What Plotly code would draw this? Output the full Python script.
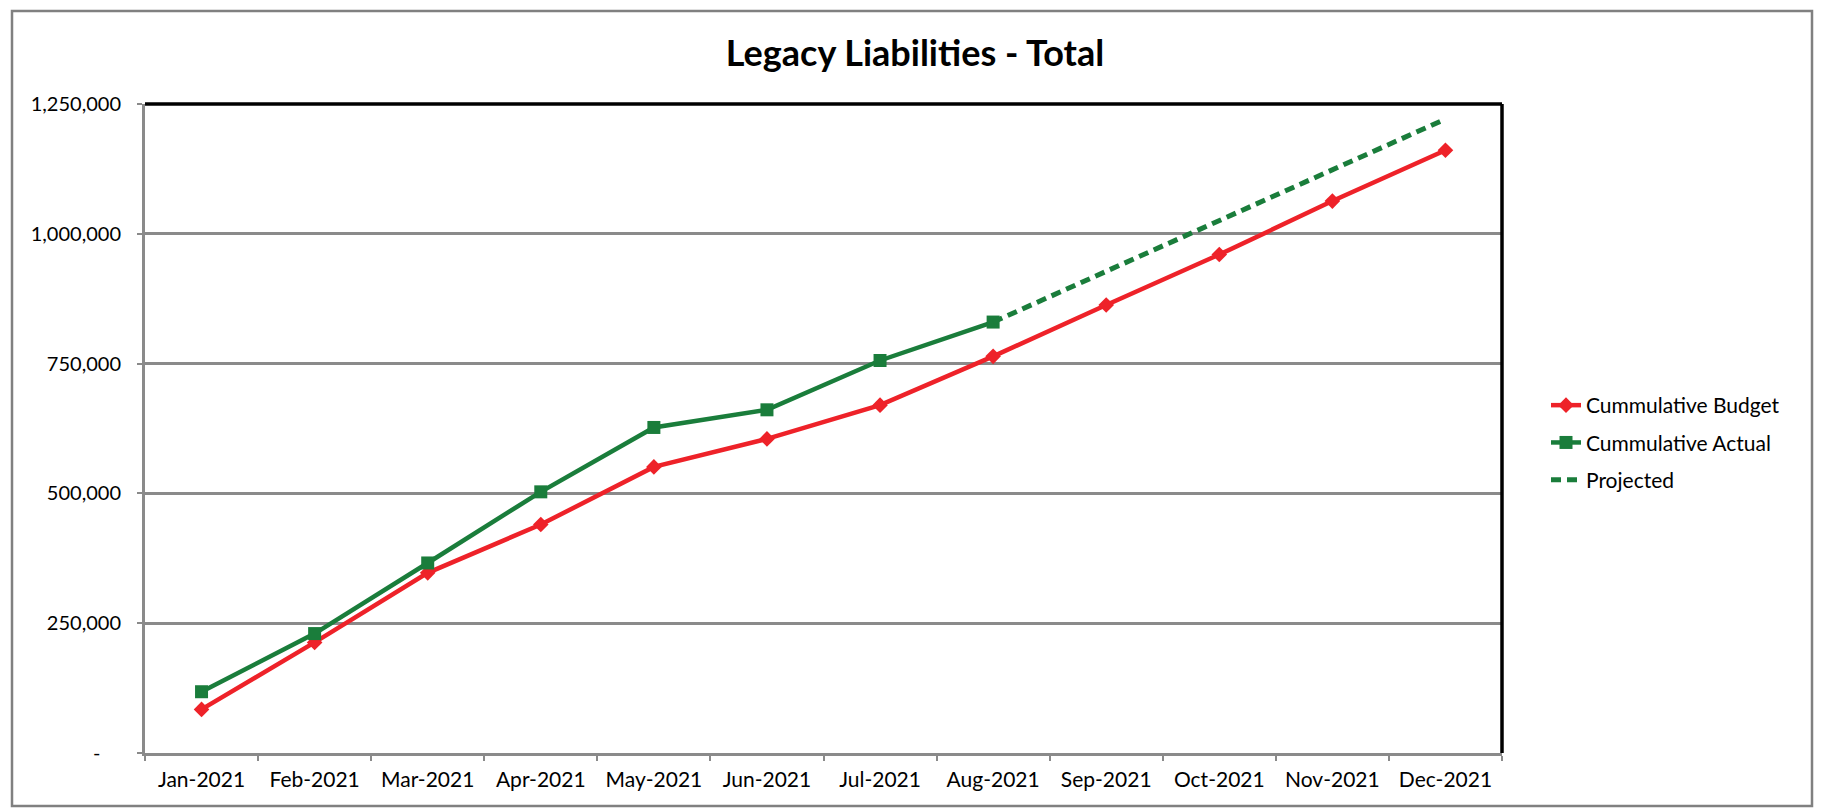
import plotly.graph_objects as go

months = ["Jan-2021", "Feb-2021", "Mar-2021", "Apr-2021", "May-2021", "Jun-2021",
          "Jul-2021", "Aug-2021", "Sep-2021", "Oct-2021", "Nov-2021", "Dec-2021"]
budget = [84000, 213000, 347000, 440000, 551000, 605000, 670000, 764000,
          863000, 960000, 1063000, 1161000]
actual = [118000, 230000, 366000, 503000, 627000, 661000, 756000, 830000]
projected_months = ["Aug-2021", "Sep-2021", "Oct-2021", "Nov-2021", "Dec-2021"]
projected = [830000, 928000, 1025000, 1123000, 1221000]
y_ticks = [0, 250000, 500000, 750000, 1000000, 1250000]
y_tick_text = ["-\u00a0\u00a0\u00a0\u00a0", "250,000", "500,000", "750,000", "1,000,000", "1,250,000"]

RED = "#ee2229"
GREEN = "#1a7d3b"
FONT = "Lato"

fig = go.Figure()
fig.add_trace(go.Scatter(
    x=months, y=budget, name="Cummulative Budget", mode="lines+markers",
    line=dict(color=RED, width=4.5), marker=dict(symbol="diamond", size=12, color=RED),
    legendgroup="a"))
fig.add_trace(go.Scatter(
    x=months[:len(actual)], y=actual, name="Cummulative Actual", mode="lines+markers",
    line=dict(color=GREEN, width=4.5), marker=dict(symbol="square", size=13, color=GREEN),
    legendgroup="b"))
fig.add_trace(go.Scatter(
    x=projected_months, y=projected, name="Projected", mode="lines",
    line=dict(color=GREEN, width=5, dash="10px,6px"), legendgroup="c"))

L, R, T, B = 145, 1502, 104, 753
W, H = 1830, 809

def px_x(p):
    return (p - L) / (R - L)

def px_y(p):
    return (B - p) / (B - T)

shapes = [
    dict(type="line", xref="paper", yref="paper", x0=0, x1=1, y0=1, y1=1,
         line=dict(color="black", width=3.5)),
    dict(type="line", xref="paper", yref="paper", x0=1, x1=1, y0=0, y1=1,
         line=dict(color="black", width=3.5)),
    dict(type="rect", xref="paper", yref="paper", x0=px_x(12), x1=px_x(1812),
         y0=px_y(806), y1=px_y(11), line=dict(color="#808080", width=2.5)),
]

fig.update_layout(
    width=W, height=H,
    margin=dict(l=L, r=W - R, t=T, b=H - B),
    paper_bgcolor="white", plot_bgcolor="white",
    font=dict(family=FONT, size=20, color="black"),
    title=dict(text="<b>Legacy Liabilities - Total</b>", font=dict(family=FONT, size=36, color="black"),
               x=915 / W, xref="container", xanchor="center",
               y=1 - 53 / H, yref="container", yanchor="middle"),
    showlegend=True,
    legend=dict(x=px_x(1546), y=px_y(385), xanchor="left", yanchor="top",
                font=dict(family=FONT, size=21, color="black"),
                tracegroupgap=7, bgcolor="rgba(0,0,0,0)"),
    shapes=shapes,
    xaxis=dict(type="category", categoryorder="array", categoryarray=months,
               range=[-0.5, 11.5], showgrid=False, showline=True, linecolor="#8a8a8a",
               linewidth=3, ticks="outside", tickson="boundaries", ticklen=5,
               tickcolor="#8a8a8a", tickwidth=2, ticklabelstandoff=6,
               tickfont=dict(family=FONT, size=21, color="black"), zeroline=False),
    yaxis=dict(range=[0, 1250000], tickvals=y_ticks, ticktext=y_tick_text,
               showgrid=True, gridcolor="#8a8a8a", gridwidth=3, showline=True,
               linecolor="#8a8a8a", linewidth=3, ticks="outside", ticklen=5,
               tickcolor="#8a8a8a", tickwidth=2, ticklabelstandoff=12,
               tickfont=dict(family=FONT, size=20, color="black"), zeroline=False),
)

fig.write_html("out.html", config={"displayModeBar": False},
               post_script="document.body.style.margin='0';document.body.style.overflow='hidden';")
